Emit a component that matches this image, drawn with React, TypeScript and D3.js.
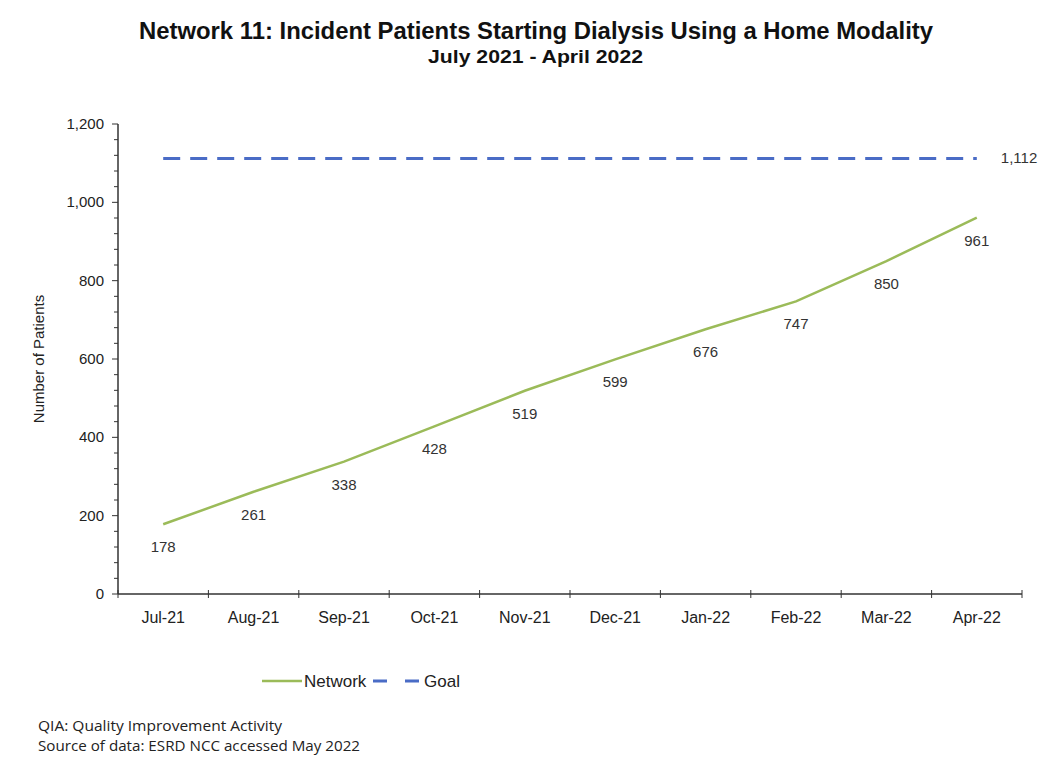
import React from "react";
import * as d3 from "d3";

const categories = ["Jul-21", "Aug-21", "Sep-21", "Oct-21", "Nov-21", "Dec-21", "Jan-22", "Feb-22", "Mar-22", "Apr-22"];
const networkValues = [178, 261, 338, 428, 519, 599, 676, 747, 850, 961];
const goalValue = 1112;
const yMajorTicks = [0, 200, 400, 600, 800, 1000, 1200];

const W = 1055, H = 767;
const left = 118, right = 1022, top = 124, bottom = 594;

export default function App() {
  const x = d3.scaleBand<string>().domain(categories).range([left, right]).padding(0);
  const cx = (c: string) => (x(c) as number) + x.bandwidth() / 2;
  const y = d3.scaleLinear().domain([0, 1200]).range([bottom, top]);
  const minor = d3.range(0, 1201, 40);
  const fmt = d3.format(",");
  const line = d3.line<number>().x((_, i) => cx(categories[i])).y((d) => y(d));
  const goalLine = d3.line<string>().x((c) => cx(c)).y(() => y(goalValue));
  const font = "'Liberation Sans', Arial, sans-serif";
  return (
    <svg width={W} height={H} style={{ position: "absolute", left: 0, top: 0, background: "#fff" }} fontFamily={font}>
      <text x={139} y={39} fontSize={23} fontWeight="bold" fill="#111" textLength={794} lengthAdjust="spacingAndGlyphs">Network 11: Incident Patients Starting Dialysis Using a Home Modality</text>
      <text x={428} y={63} fontSize={18.5} fontWeight="bold" fill="#111" textLength={215} lengthAdjust="spacingAndGlyphs">July 2021 - April 2022</text>
      {/* y axis */}
      <line x1={left} x2={left} y1={top} y2={bottom} stroke="#333" strokeWidth={1.5} />
      {minor.map((v) => (
        <line key={"m" + v} x1={left - (v % 200 === 0 ? 6 : 4)} x2={left} y1={y(v)} y2={y(v)} stroke="#333" strokeWidth={1} />
      ))}
      {yMajorTicks.map((v) => (
        <text key={"t" + v} x={left - 14} y={y(v) + 5} textAnchor="end" fontSize={15} fill="#222">{fmt(v)}</text>
      ))}
      <text transform={`translate(44,${(top + bottom) / 2}) rotate(-90)`} textAnchor="middle" fontSize={15} fill="#222">Number of Patients</text>
      {/* x axis */}
      <line x1={left} x2={right} y1={bottom} y2={bottom} stroke="#333" strokeWidth={1.5} />
      {categories.map((c) => (
        <line key={"xt" + c} x1={(x(c) as number)} x2={(x(c) as number)} y1={bottom - 4} y2={bottom + 4} stroke="#333" strokeWidth={1} />
      ))}
      <line x1={right} x2={right} y1={bottom - 4} y2={bottom + 4} stroke="#333" strokeWidth={1} />
      {categories.map((c) => (
        <text key={"xl" + c} x={cx(c)} y={bottom + 29} textAnchor="middle" fontSize={16} fill="#222">{c}</text>
      ))}
      {/* goal */}
      <path d={goalLine([categories[0], categories[categories.length - 1]]) || ""} fill="none" stroke="#4a6cc6" strokeWidth={3} strokeDasharray="17 10" />
      <text x={cx(categories[categories.length - 1]) + 24} y={y(goalValue) + 5} fontSize={15} fill="#333">{fmt(goalValue)}</text>
      {/* network */}
      <path d={line(networkValues) || ""} fill="none" stroke="#9bbb59" strokeWidth={2.5} />
      {networkValues.map((v, i) => (
        <text key={"dl" + i} x={cx(categories[i])} y={y(v) + 28} textAnchor="middle" fontSize={15} fill="#333">{v}</text>
      ))}
      {/* legend */}
      <line x1={262} x2={302} y1={681} y2={681} stroke="#9bbb59" strokeWidth={2.5} />
      <text x={304} y={687} fontSize={17} fill="#222">Network</text>
      <line x1={373} x2={421} y1={681} y2={681} stroke="#4a6cc6" strokeWidth={3} strokeDasharray="14 18" />
      <text x={424} y={687} fontSize={17} fill="#222">Goal</text>
      {/* footnotes */}
      <text x={38} y={731} fontSize={14} fill="#222" fontFamily="'Open Sans', sans-serif" textLength={244} lengthAdjust="spacingAndGlyphs">QIA:  Quality Improvement Activity</text>
      <text x={38} y={751} fontSize={14} fill="#222" fontFamily="'Open Sans', sans-serif" textLength={322} lengthAdjust="spacingAndGlyphs">Source of data:  ESRD NCC accessed May 2022</text>
    </svg>
  );
}
